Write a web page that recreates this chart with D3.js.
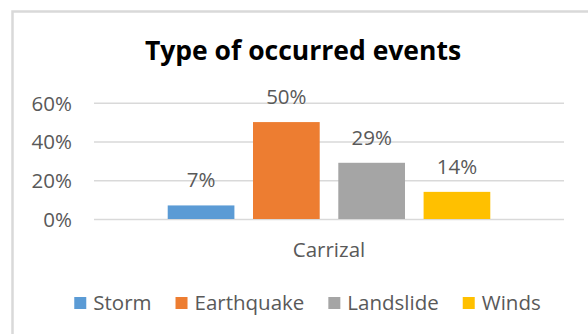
<!DOCTYPE html>
<html>
<head>
<meta charset="utf-8">
<script src="https://cdn.jsdelivr.net/npm/d3@7"></script>
<style>
  html, body { margin: 0; padding: 0; background: #fff; }
  svg { display: block; font-family: "Open Sans", "Noto Sans", sans-serif; }
</style>
</head>
<body>
<svg id="chart" width="588" height="334"></svg>
<script>
// Chart data
const categories = ["Carrizal"];
const seriesNames = ["Storm", "Earthquake", "Landslide", "Winds"];
const seriesValues = [0.07, 0.50, 0.29, 0.14];
const seriesColors = ["#5B9BD5", "#ED7D31", "#A5A5A5", "#FFC000"];
const yTicks = [0, 0.2, 0.4, 0.6];
const titleText = "Type of occurred events";

const svg = d3.select("#chart");
const textColor = "#595959";
const labelSize = 20.5;

// Chart frame (only left and top edges fall inside the view)
svg.append("rect")
  .attr("x", 12.5).attr("y", 11.5)
  .attr("width", 620).attr("height", 400)
  .attr("fill", "none")
  .attr("stroke", "#d9d9d9")
  .attr("stroke-width", 2.5);

// Title
svg.append("text")
  .attr("x", 303).attr("y", 60)
  .attr("text-anchor", "middle")
  .attr("font-size", 26.5)
  .attr("font-weight", "bold")
  .attr("fill", "#000")
  .text(titleText);

// Plot area
const plot = { left: 94, right: 564, top: 102.7, bottom: 219 };

const y = d3.scaleLinear().domain([0, 0.6]).range([plot.bottom, plot.top]);

const x0 = d3.scaleBand()
  .domain(categories)
  .range([plot.left, plot.right])
  .paddingInner(0)
  .paddingOuter(0.2285);

const x1 = d3.scaleBand()
  .domain(seriesNames)
  .range([0, x0.bandwidth()])
  .paddingInner(0.218)
  .paddingOuter(0);

// Gridlines and y tick labels
const yAxis = d3.axisLeft(y)
  .tickValues(yTicks)
  .tickSize(-(plot.right - plot.left))
  .tickPadding(22)
  .tickFormat(d3.format(".0%"));

const gy = svg.append("g")
  .attr("transform", `translate(${plot.left},0)`)
  .call(yAxis);
gy.select(".domain").remove();
gy.selectAll(".tick line")
  .attr("stroke", "#d9d9d9")
  .attr("stroke-width", 1.5);
gy.selectAll(".tick text")
  .attr("fill", textColor)
  .attr("font-size", labelSize)
  .attr("font-family", "'Open Sans', sans-serif")
  .attr("dy", "0.36em");

// Category axis label
const xAxis = d3.axisBottom(x0).tickSize(0).tickPadding(23);
const gx = svg.append("g")
  .attr("transform", `translate(0,${plot.bottom})`)
  .call(xAxis);
gx.select(".domain").remove();
gx.selectAll(".tick text")
  .attr("fill", textColor)
  .attr("font-size", labelSize)
  .attr("font-family", "'Open Sans', sans-serif");

// Bars
const rows = seriesNames.map((name, i) => ({
  category: categories[0], name, value: seriesValues[i], color: seriesColors[i]
}));

const groups = svg.append("g")
  .selectAll("g")
  .data(categories)
  .join("g")
  .attr("transform", d => `translate(${x0(d)},0)`);

groups.selectAll("rect")
  .data(c => rows.filter(r => r.category === c))
  .join("rect")
  .attr("x", d => x1(d.name))
  .attr("y", d => y(d.value))
  .attr("width", x1.bandwidth())
  .attr("height", d => y(0) - y(d.value))
  .attr("fill", d => d.color);

// Value labels
groups.selectAll("text.value")
  .data(c => rows.filter(r => r.category === c))
  .join("text")
  .attr("class", "value")
  .attr("x", d => x1(d.name) + x1.bandwidth() / 2)
  .attr("y", d => y(d.value) - 18)
  .attr("text-anchor", "middle")
  .attr("font-size", labelSize)
  .attr("fill", textColor)
  .text(d => d3.format(".0%")(d.value));

// Legend, laid out from measured label widths and centred
const legend = svg.append("g");
const keySize = 12, keyGap = 7, itemGap = 24, legendBaseline = 310, legendCenter = 307.5;
const items = legend.selectAll("g")
  .data(seriesNames.map((n, i) => ({ name: n, color: seriesColors[i] })))
  .join("g");
items.append("rect")
  .attr("width", keySize).attr("height", keySize)
  .attr("y", legendBaseline - 13)
  .attr("fill", d => d.color);
items.append("text")
  .attr("x", keySize + keyGap)
  .attr("y", legendBaseline)
  .attr("font-size", labelSize)
  .attr("fill", textColor)
  .text(d => d.name);

const widths = [];
items.each(function () {
  widths.push(keySize + keyGap + d3.select(this).select("text").node().getComputedTextLength());
});
const total = d3.sum(widths) + itemGap * (widths.length - 1);
let cursor = legendCenter - total / 2;
items.each(function (d, i) {
  d3.select(this).attr("transform", `translate(${cursor},0)`);
  cursor += widths[i] + itemGap;
});
</script>
</body>
</html>
